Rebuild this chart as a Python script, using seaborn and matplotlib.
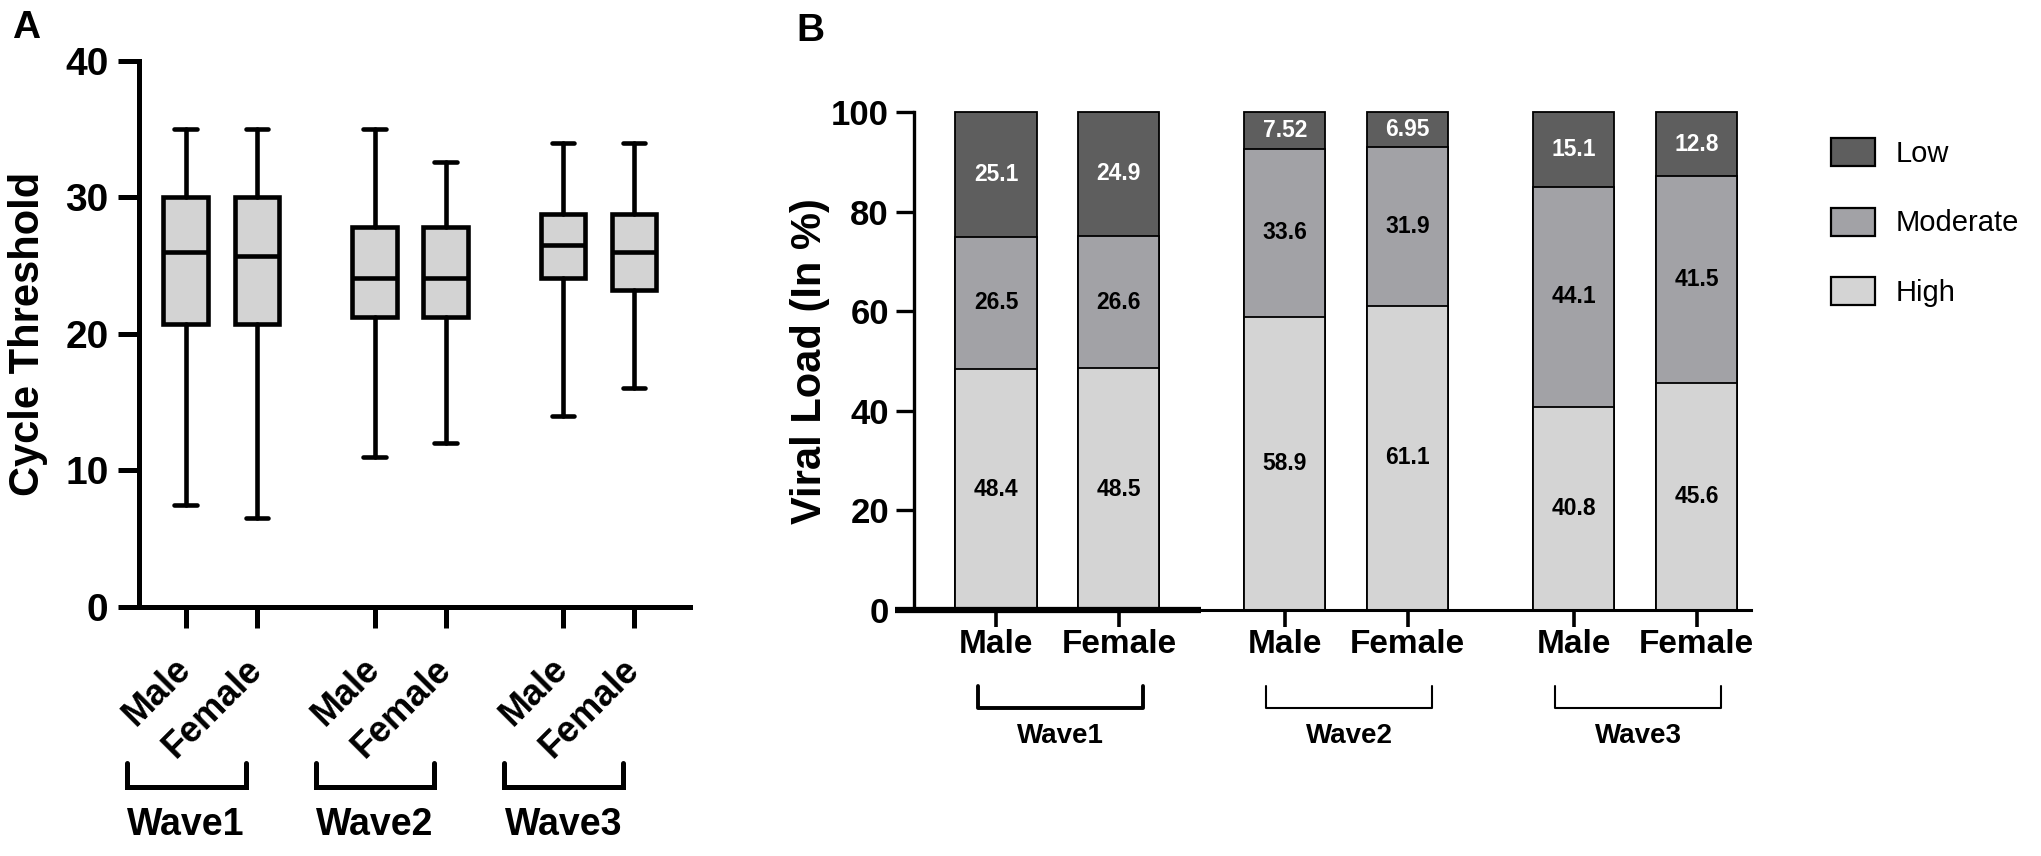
import numpy as np
import pandas as pd
import matplotlib
matplotlib.use("Agg")
import matplotlib.pyplot as plt
import matplotlib.transforms as mtransforms
from matplotlib import font_manager
from matplotlib.patches import Patch
import seaborn as sns

# ---- data, panel A: cycle threshold (min / q1 / median / q3 / max)
groups = ["Male", "Female", "Male", "Female", "Male", "Female"]
waves = ["Wave1", "Wave2", "Wave3"]
ct_min = [7.5, 6.5, 11.0, 12.0, 14.0, 16.0]
ct_q1 = [20.7, 20.7, 21.2, 21.2, 24.1, 23.2]
ct_med = [26.0, 25.7, 24.1, 24.1, 26.5, 26.0]
ct_q3 = [30.0, 30.0, 27.8, 27.8, 28.8, 28.8]
ct_max = [35.0, 35.0, 35.0, 32.6, 34.0, 34.0]

# ---- data, panel B: viral load (%)
levels = ["Low", "Moderate", "High"]
high = [48.4, 48.5, 58.9, 61.1, 40.8, 45.6]
moderate = [26.5, 26.6, 33.6, 31.9, 44.1, 41.5]
low = [25.1, 24.9, 7.52, 6.95, 15.1, 12.8]

sns.set_theme(style="ticks")
names = {f.name for f in font_manager.fontManager.ttflist}
narrow = "Liberation Sans Narrow" if "Liberation Sans Narrow" in names else "Liberation Sans"
plt.rcParams["font.family"] = ["Liberation Sans", "DejaVu Sans"]
for k in ["text.color", "axes.labelcolor", "xtick.color", "ytick.color", "axes.edgecolor"]:
    plt.rcParams[k] = "black"
nfam = [narrow, "DejaVu Sans"]

c_low, c_mod, c_high = "#5e5e5e", "#a2a2a6", "#d4d4d4"

fig = plt.figure(figsize=(20.41, 8.56), dpi=100)
axA = fig.add_axes([0.0681, 0.291, 0.270, 0.638])
axB = fig.add_axes([0.4478, 0.2874, 0.410, 0.5818])

# ================= panel A
pos_a = [0.66, 1.66, 3.32, 4.32, 5.97, 6.97]
stats = [dict(whislo=a, q1=b, med=c, q3=d, whishi=e)
         for a, b, c, d, e in zip(ct_min, ct_q1, ct_med, ct_q3, ct_max)]
lw = 3.6
axA.bxp(stats, positions=pos_a, widths=0.63, capwidths=0.32, patch_artist=True,
        showfliers=False,
        boxprops=dict(facecolor="#d3d3d3", edgecolor="black", linewidth=3.3),
        whiskerprops=dict(color="black", linewidth=3.3),
        capprops=dict(color="black", linewidth=3.3),
        medianprops=dict(color="black", linewidth=3.3))
axA.set_xlim(0, 7.76)
axA.set_ylim(0, 40)
axA.set_yticks([0, 10, 20, 30, 40])
axA.set_xticks(pos_a)
axA.set_xticklabels(groups, rotation=45, ha="right", va="center",
                    rotation_mode="anchor", fontweight="bold", fontsize=26)
for lab in axA.get_yticklabels():
    lab.set_fontweight("bold")
axA.tick_params(axis="y", labelsize=28, length=15, width=lw, pad=7)
axA.tick_params(axis="x", length=15, width=lw, pad=26)
for s in ["top", "right"]:
    axA.spines[s].set_visible(False)
for s in ["left", "bottom"]:
    axA.spines[s].set_linewidth(lw)
axA.set_ylabel("Cycle Threshold", fontsize=30, fontweight="bold")
axA.yaxis.set_label_coords(-0.165, 0.5)
axA.set_xlabel("")

trA = mtransforms.blended_transform_factory(axA.transData, axA.transAxes)
for i, w in enumerate(waves):
    x0 = pos_a[2 * i] - 0.83
    x1 = pos_a[2 * i + 1] - 0.16
    axA.plot([x0, x0, x1, x1], [-0.286, -0.33, -0.33, -0.286], color="black",
             lw=lw, transform=trA, clip_on=False, solid_joinstyle="miter")
    axA.text((x0 + x1) / 2, -0.40, w, transform=trA, ha="center", va="center",
             fontsize=27, fontweight="bold")

# ================= panel B
pos_b = [1.0, 2.0, 3.35, 4.35, 5.7, 6.7]
df = pd.DataFrame({"pos": pos_b, "low": low, "moderate": moderate, "high": high})
df["mid"] = df["high"] + df["moderate"]
df["top"] = df["mid"] + df["low"]

for col, c in [("top", c_low), ("mid", c_mod), ("high", c_high)]:
    sns.barplot(data=df, x="pos", y=col, native_scale=True, width=0.66, color=c,
                saturation=1, edgecolor="black", linewidth=1.3, errorbar=None,
                ax=axB, clip_on=False)

for i in range(len(pos_b)):
    segs = [(high[i] / 2, high[i], "black"),
            (high[i] + moderate[i] / 2, moderate[i], "black"),
            (high[i] + moderate[i] + low[i] / 2, low[i], "white")]
    for y, v, col in segs:
        axB.text(pos_b[i], y, f"{v:g}", ha="center", va="center", color=col,
                 fontsize=16.5, fontweight="bold", family=nfam)

axB.set_xlim(0.333, 7.14)
axB.set_ylim(0, 100)
axB.set_yticks([0, 20, 40, 60, 80, 100])
axB.set_xticks(pos_b)
axB.set_xticklabels(groups, fontsize=24, fontweight="bold", family=nfam)
for lab in axB.get_yticklabels():
    lab.set_family(nfam)
    lab.set_fontweight("bold")
axB.tick_params(axis="y", labelsize=25, length=13, width=2.4, pad=5)
axB.tick_params(axis="x", length=12, width=2.6, pad=2)
for s in ["top", "right"]:
    axB.spines[s].set_visible(False)
axB.spines["left"].set_linewidth(2.4)
axB.spines["bottom"].set_linewidth(2.2)
axB.set_xlabel("")
axB.set_ylabel("Viral Load (In %)", fontsize=30, fontweight="bold")
axB.yaxis.set_label_coords(-0.1, 0.5)

# heavier stretch of the base line under Wave1
trB = mtransforms.blended_transform_factory(axB.transData, axB.transAxes)
axB.plot([0.18, 2.67], [0, 0], color="black", lw=4.5, transform=trB,
         clip_on=False, solid_capstyle="butt")

for i, w in enumerate(waves):
    x0 = pos_b[2 * i] - 0.15
    x1 = pos_b[2 * i + 1] + 0.2
    lwb = 2.8 if i == 0 else 1.5
    axB.plot([x0, x0, x1, x1], [-0.152, -0.197, -0.197, -0.152], color="black",
             lw=lwb, transform=trB, clip_on=False)
    axB.text((x0 + x1) / 2, -0.226, w, transform=trB, ha="center", va="top",
             fontsize=20, fontweight="bold", family=nfam)

handles = [Patch(facecolor=c, edgecolor="black", linewidth=1.6, label=l)
           for c, l in zip([c_low, c_mod, c_high], levels)]
leg = axB.legend(handles=handles, loc="upper left", bbox_to_anchor=(1.065, 1.0),
                 frameon=False, handlelength=1.5, handleheight=1.1,
                 labelspacing=1.35, handletextpad=0.7,
                 prop=dict(family=nfam, size=21))

fig.text(0.006, 0.988, "A", fontsize=28, fontweight="bold", ha="left", va="top")
fig.text(0.390, 0.985, "B", fontsize=28, fontweight="bold", ha="left", va="top")

fig.savefig("out.png", dpi=100)
